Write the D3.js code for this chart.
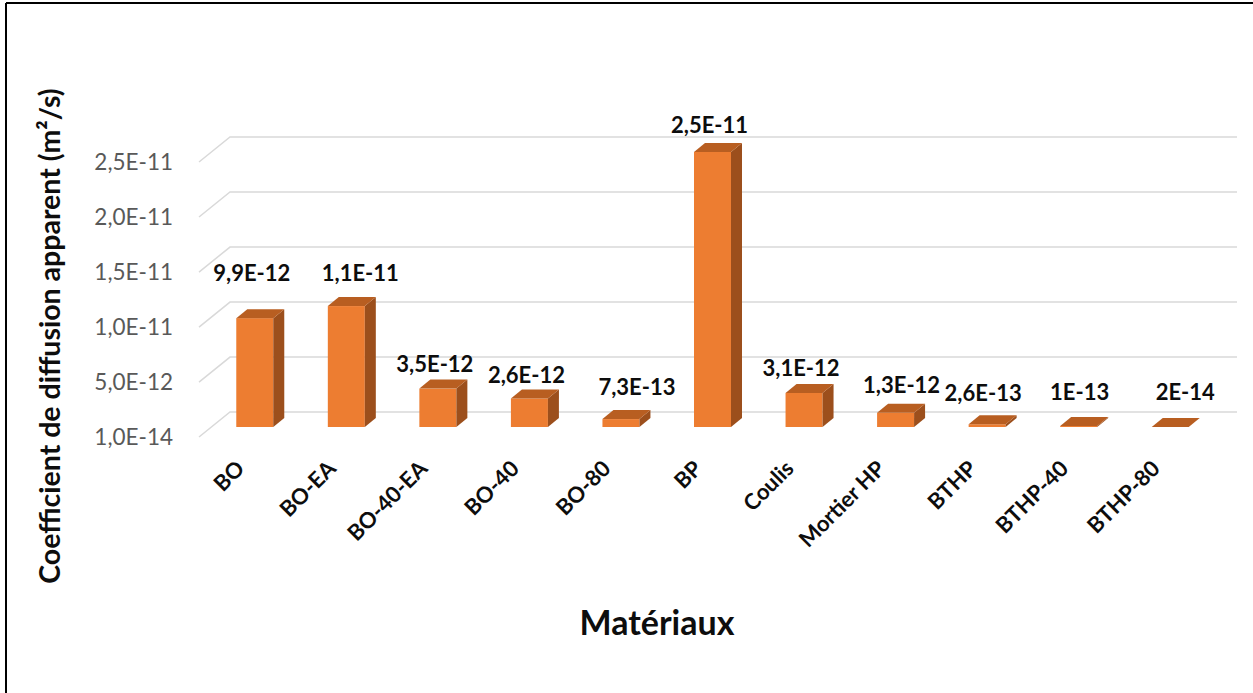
<!DOCTYPE html>
<html>
<head>
<meta charset="utf-8">
<script src="https://cdn.jsdelivr.net/npm/d3@7"></script>
<style>
  html, body { margin: 0; padding: 0; background: #fff; }
  svg { display: block; }
  text { font-family: Lato, "Open Sans", sans-serif; }
</style>
</head>
<body>
<script>
// ---- data ----
const categories = ["BO", "BO-EA", "BO-40-EA", "BO-40", "BO-80", "BP", "Coulis", "Mortier HP", "BTHP", "BTHP-40", "BTHP-80"];
const values = [9.9e-12, 1.1e-11, 3.5e-12, 2.6e-12, 7.3e-13, 2.5e-11, 3.1e-12, 1.3e-12, 2.6e-13, 1e-13, 2e-14];
const valueLabels = ["9,9E-12", "1,1E-11", "3,5E-12", "2,6E-12", "7,3E-13", "2,5E-11", "3,1E-12", "1,3E-12", "2,6E-13", "1E-13", "2E-14"];
const tickValues = [1e-14, 5e-12, 1e-11, 1.5e-11, 2e-11, 2.5e-11];
const tickLabels = ["1,0E-14", "5,0E-12", "1,0E-11", "1,5E-11", "2,0E-11", "2,5E-11"];
const yTitle = "Coefficient de diffusion apparent (m²/s)";
const xTitle = "Matériaux";

// ---- layout ----
const W = 1253, H = 693;
const frontX0 = 199, frontX1 = 1206, baseY = 437, topY = 162;
const depthDX = 31, depthDY = -25;          // floor/wall depth
const barW = 37, barDX = 11, barDY = -9;    // bar 3D depth
const barOffX = 10, barOffY = -10;          // bar front plane offset
const colFront = "#ED7D31", colTop = "#B85E21", colSide = "#9C4F1C";
// manual label nudges (Excel-like placement)
const labelNudge = {
  "BO": [0, -20], "BO-EA": [17, -8], "BO-40-EA": [0, 1], "BO-40": [0, 2], "BO-80": [19, -7],
  "BP": [0, -2], "Coulis": [0, 0], "Mortier HP": [9, -3], "BTHP": [-1, -6], "BTHP-40": [4, -9], "BTHP-80": [18, -10]
};

const svg = d3.select("body").append("svg").attr("width", W).attr("height", H);

// border (left + top visible)
svg.append("line").attr("x1", 6).attr("y1", 3).attr("x2", W).attr("y2", 3).attr("stroke", "#000").attr("stroke-width", 2);
svg.append("line").attr("x1", 6).attr("y1", 3).attr("x2", 6).attr("y2", H).attr("stroke", "#000").attr("stroke-width", 2);

const x = d3.scaleBand().domain(categories).range([frontX0, frontX1]).paddingInner(0).paddingOuter(0);
const y = d3.scaleLinear().domain([tickValues[0], tickValues[tickValues.length - 1]]).range([baseY, topY]);

// gridlines (floor diagonal + back wall line)
const grid = svg.append("g");
tickValues.forEach(t => {
  const yy = y(t);
  grid.append("path")
    .attr("d", `M${frontX0},${yy} L${frontX0 + depthDX},${yy + depthDY} L${frontX1 + depthDX},${yy + depthDY}`)
    .attr("fill", "none").attr("stroke", "#D9D9D9").attr("stroke-width", 1.5);
});

// y tick labels
svg.append("g").selectAll("text").data(tickValues).join("text")
  .attr("x", 173).attr("y", d => y(d)).attr("dy", "0.35em")
  .attr("text-anchor", "end").attr("font-size", 22.5).attr("fill", "#595959")
  .text((d, i) => tickLabels[i]);

// bars
const bars = svg.append("g").selectAll("g").data(categories).join("g");
bars.each(function (c, i) {
  const g = d3.select(this);
  const xl = x(c) + x.bandwidth() / 2 - barW / 2 + barOffX;
  const xr = xl + barW;
  const yb = y(tickValues[0]) + barOffY;
  const yt = y(values[i]) + barOffY;
  if (yb - yt > 0.3) {
    g.append("rect").attr("x", xl).attr("y", yt).attr("width", barW).attr("height", yb - yt).attr("fill", colFront);
    g.append("path").attr("d", `M${xr},${yt} L${xr + barDX},${yt + barDY} L${xr + barDX},${yb + barDY} L${xr},${yb} Z`).attr("fill", colSide);
  }
  g.append("path").attr("d", `M${xl},${yt} L${xr},${yt} L${xr + barDX},${yt + barDY} L${xl + barDX},${yt + barDY} Z`).attr("fill", colTop);
});

// value labels
svg.append("g").selectAll("text").data(categories).join("text")
  .attr("x", (c) => x(c) + x.bandwidth() / 2 + barOffX - 3 + labelNudge[c][0])
  .attr("y", (c, i) => y(values[i]) + barOffY + barDY - 16 + labelNudge[c][1])
  .attr("dy", "0.35em").attr("text-anchor", "middle")
  .attr("font-size", 22).attr("font-weight", "bold").attr("fill", "#0D0D0D")
  .text((c, i) => valueLabels[i]);

// category labels
svg.append("g").selectAll("text").data(categories).join("text")
  .attr("transform", c => `translate(${x(c) + x.bandwidth() / 2 + 1},${470}) rotate(-45)`)
  .attr("text-anchor", "end")
  .attr("font-size", 22).attr("font-weight", "bold").attr("fill", "#0D0D0D")
  .text(c => c);

// axis titles
svg.append("text")
  .attr("transform", `translate(60,336) rotate(-90)`)
  .attr("text-anchor", "middle").attr("font-size", 28.5).attr("font-weight", "bold").attr("fill", "#0D0D0D")
  .text(yTitle);
svg.append("text")
  .attr("x", 657).attr("y", 635).attr("text-anchor", "middle")
  .attr("font-size", 34).attr("font-weight", "bold").attr("fill", "#0D0D0D")
  .text(xTitle);
</script>
</body>
</html>
